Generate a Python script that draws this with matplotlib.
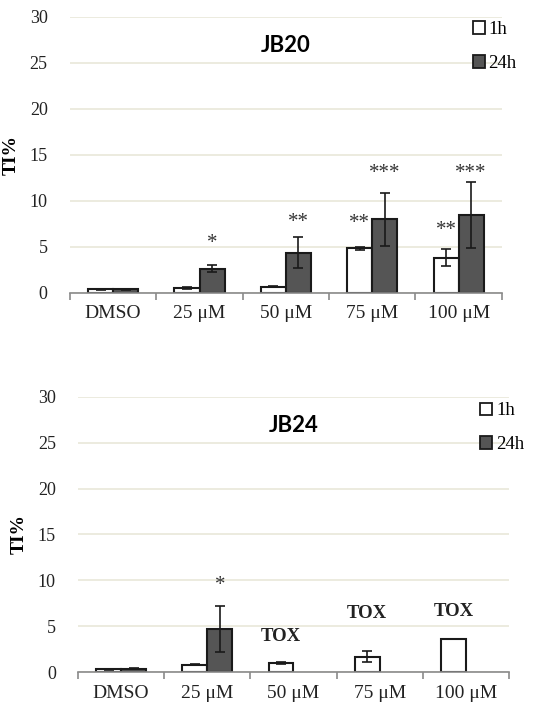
import numpy as np
import matplotlib
matplotlib.use("Agg")
import matplotlib.pyplot as plt
from matplotlib.patches import Patch

# categories and values
categories = ["DMSO", "25 \u03bcM", "50 \u03bcM", "75 \u03bcM", "100 \u03bcM"]

jb20_1h = [0.4, 0.5, 0.7, 4.85, 3.85]
jb20_1h_err = [0.05, 0.1, 0.05, 0.15, 0.95]
jb20_24h = [0.4, 2.65, 4.4, 8.0, 8.5]
jb20_24h_err = [0.05, 0.4, 1.7, 2.9, 3.6]
jb20_sig_1h = ["", "", "", "**", "**"]
jb20_sig_1h_y = [0, 0, 0, 7.6, 6.8]
jb20_sig_24h = ["", "*", "**", "***", "***"]
jb20_sig_24h_y = [0, 5.4, 7.7, 13.0, 13.0]

jb24_1h = [0.3, 0.8, 1.0, 1.7, 3.6]
jb24_1h_err = [0.05, 0.05, 0.1, 0.55, 0.0]
jb24_24h = [0.35, 4.7, np.nan, np.nan, np.nan]
jb24_24h_err = [0.05, 2.55, 0, 0, 0]
jb24_sig_24h = ["", "*", "", "", ""]
jb24_sig_24h_y = [0, 9.4, 0, 0, 0]
jb24_tox = ["", "", "TOX", "TOX", "TOX"]
jb24_tox_y = [0, 0, 3.9, 6.4, 6.6]

SERIF = "Liberation Serif"
DARK = "#555555"
w = 0.29

plt.rcParams["font.family"] = [SERIF, "DejaVu Serif"]

fig = plt.figure(figsize=(5.42, 7.06), dpi=100)


def panel(rect, title, v1, e1, v24, e24, legend_xy):
    ax = fig.add_axes(rect)
    x = np.arange(len(categories))
    ax.bar(x - w / 2, v1, w, color="white", edgecolor="#1a1a1a", linewidth=1.5, zorder=3)
    ax.bar(x + w / 2, v24, w, color=DARK, edgecolor="#1a1a1a", linewidth=1.5, zorder=3)
    ekw = dict(fmt="none", ecolor="#1a1a1a", elinewidth=1.2, capsize=3.5, capthick=1.2, zorder=4)
    ax.errorbar(x - w / 2, v1, yerr=e1, **ekw)
    ax.errorbar(x + w / 2, v24, yerr=e24, **ekw)

    ax.set_xlim(-0.5, len(categories) - 0.5)
    ax.set_ylim(0, 30)
    ax.set_yticks(range(0, 31, 5))
    ax.yaxis.grid(True, color="#e9e7d9", linewidth=1.2, zorder=0)
    ax.set_axisbelow(True)
    for s in ["top", "right", "left"]:
        ax.spines[s].set_visible(False)
    ax.spines["bottom"].set_color("#8a8a8a")
    ax.spines["bottom"].set_linewidth(1.2)
    ax.spines["bottom"].set_zorder(5)

    ax.set_xticks(x)
    ax.set_xticklabels(categories, fontsize=14, color="#222222")
    ax.set_xticks(np.arange(-0.5, len(categories)), minor=True)
    ax.tick_params(axis="x", which="major", length=0, pad=9)
    ax.tick_params(axis="x", which="minor", length=5, color="#8a8a8a", width=1.2)
    ax.tick_params(axis="y", length=0, pad=16, labelsize=13, labelcolor="#222222")

    ax.set_ylabel("TI%", fontweight="bold", fontsize=14)
    ax.yaxis.set_label_coords(-0.116, 0.5)

    ax.text(2, 26.9, title, ha="center", va="center", fontfamily="Lato",
            fontweight="bold", fontsize=16)

    handles = [Patch(facecolor="white", edgecolor="#1a1a1a", linewidth=1.3),
               Patch(facecolor=DARK, edgecolor="#1a1a1a", linewidth=1.3)]
    ax.legend(handles, ["1h", "24h"], loc="upper left", bbox_to_anchor=legend_xy,
              bbox_transform=fig.transFigure, frameon=False,
              prop={"size": 13.5}, handlelength=0.65,
              handleheight=0.65, handletextpad=0.2, labelspacing=0.9,
              borderpad=0, borderaxespad=0)
    return ax, x


ax1, x = panel([0.129, 0.585, 0.797, 0.391], "JB20", jb20_1h, jb20_1h_err,
               jb20_24h, jb20_24h_err, (0.872, 0.97))
for i in range(len(categories)):
    if jb20_sig_1h[i]:
        ax1.text(x[i] - w / 2, jb20_sig_1h_y[i], jb20_sig_1h[i], ha="center", va="center",
                 fontsize=15, color="#333333", zorder=6)
    if jb20_sig_24h[i]:
        ax1.text(x[i] + w / 2, jb20_sig_24h_y[i], jb20_sig_24h[i], ha="center", va="center",
                 fontsize=15, color="#333333", zorder=6)

ax2, x = panel([0.144, 0.048, 0.795, 0.390], "JB24", jb24_1h, jb24_1h_err,
               jb24_24h, jb24_24h_err, (0.886, 0.43))
for i in range(len(categories)):
    if jb24_sig_24h[i]:
        ax2.text(x[i] + w / 2, jb24_sig_24h_y[i], jb24_sig_24h[i], ha="center", va="center",
                 fontsize=15, color="#333333", zorder=6)
    if jb24_tox[i]:
        ax2.text(x[i] - w / 2, jb24_tox_y[i], jb24_tox[i], ha="center", va="center",
                 fontweight="bold", fontsize=13.5, color="#222222")

fig.savefig("out.png", dpi=100)
